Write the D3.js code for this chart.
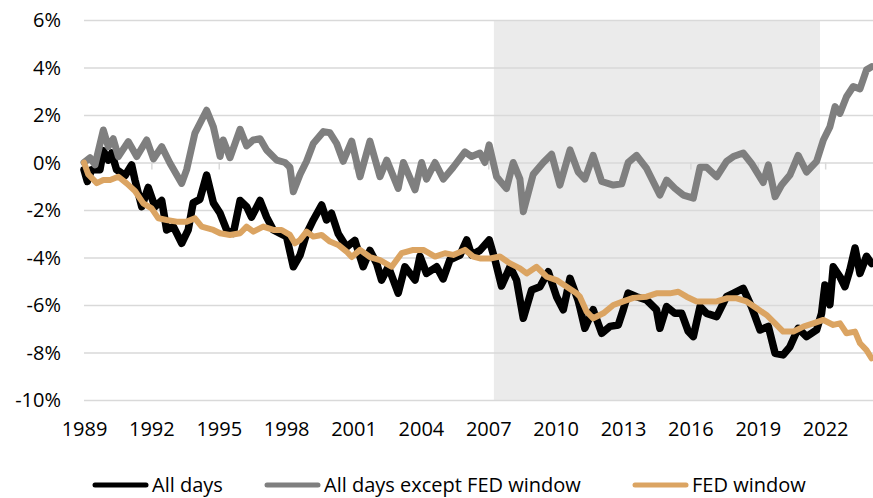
<!DOCTYPE html>
<html>
<head>
<meta charset="utf-8">
<script src="https://cdn.jsdelivr.net/npm/d3@7"></script>
<style>
  body { margin: 0; background: #fff; }
  svg { display: block; font-family: "Open Sans", sans-serif; }
</style>
</head>
<body>
<svg width="873" height="498"></svg>
<script>
// values: [year, cumulative %]
var allDays = [
  [1989.0,-0.3],[1989.15,-0.8],[1989.34,-0.3],[1989.71,-0.3],[1989.86,0.5],[1990.08,0.1],[1990.23,0.4],
  [1990.45,-0.3],[1990.83,-0.55],[1991.12,-0.1],[1991.27,-0.74],[1991.57,-1.86],[1991.86,-1.05],
  [1992.16,-1.86],[1992.46,-1.6],[1992.68,-2.84],[1992.98,-2.7],[1993.35,-3.4],[1993.64,-2.84],
  [1993.86,-1.7],[1994.16,-1.55],[1994.46,-0.53],[1994.76,-1.7],[1995.06,-2.14],[1995.35,-2.84],
  [1995.65,-2.98],[1995.95,-1.6],[1996.24,-1.86],[1996.46,-2.3],[1996.84,-1.6],[1997.13,-2.3],
  [1997.43,-2.84],[1997.73,-2.98],[1998.02,-3.12],[1998.32,-4.39],[1998.62,-3.9],[1998.91,-3.0],
  [1999.21,-2.42],[1999.58,-1.79],[1999.8,-2.42],[2000.02,-2.14],[2000.32,-3.0],[2000.69,-3.56],
  [2001.06,-3.28],[2001.43,-4.39],[2001.73,-3.7],[2002.03,-4.25],[2002.25,-4.95],[2002.55,-4.39],
  [2002.99,-5.5],[2003.29,-4.39],[2003.74,-4.95],[2003.96,-3.95],[2004.25,-4.67],[2004.7,-4.39],
  [2004.99,-4.9],[2005.29,-4.1],[2005.74,-3.9],[2006.04,-3.26],[2006.26,-3.9],[2006.63,-3.7],
  [2007.04,-3.26],[2007.3,-4.1],[2007.59,-5.2],[2007.97,-4.39],[2008.26,-4.95],[2008.56,-6.56],
  [2008.93,-5.37],[2009.3,-5.23],[2009.67,-4.6],[2010.04,-5.65],[2010.34,-6.2],[2010.64,-4.88],
  [2011.0,-5.8],[2011.08,-6.1],[2011.3,-6.98],[2011.67,-6.2],[2012.05,-7.19],[2012.42,-6.9],
  [2012.79,-6.84],[2013.01,-6.2],[2013.23,-5.5],[2013.6,-5.65],[2014.05,-5.79],[2014.49,-6.2],
  [2014.64,-6.98],[2014.94,-6.07],[2015.31,-6.35],[2015.61,-6.35],[2015.9,-7.1],[2016.13,-7.33],
  [2016.43,-6.07],[2016.72,-6.35],[2017.17,-6.49],[2017.61,-5.65],[2017.91,-5.51],[2018.35,-5.3],
  [2018.72,-6.07],[2019.1,-7.05],[2019.47,-6.9],[2019.77,-8.03],[2020.13,-8.1],[2020.43,-7.76],
  [2020.8,-6.98],[2021.17,-7.33],[2021.62,-7.05],[2021.84,-6.35],[2021.99,-5.16],[2022.21,-5.99],
  [2022.36,-4.39],[2022.66,-4.81],[2022.88,-5.23],[2023.1,-4.53],[2023.33,-3.6],[2023.55,-4.67],
  [2023.84,-3.95],[2024.07,-4.25]
];

var exceptFed = [
  [1989.0,0.0],[1989.27,0.2],[1989.49,-0.1],[1989.86,1.37],[1990.08,0.67],[1990.3,1.0],[1990.53,0.25],
  [1990.97,0.88],[1991.35,0.25],[1991.79,0.95],[1992.09,0.15],[1992.46,0.67],[1992.83,-0.03],
  [1993.35,-0.88],[1993.57,-0.3],[1993.94,1.24],[1994.46,2.2],[1994.76,1.5],[1995.06,0.25],
  [1995.2,0.95],[1995.5,0.2],[1995.95,1.4],[1996.24,0.7],[1996.54,0.95],[1996.84,1.0],[1997.13,0.53],
  [1997.58,0.1],[1997.95,0.0],[1998.17,-0.2],[1998.32,-1.23],[1998.62,-0.5],[1998.91,0.05],
  [1999.21,0.8],[1999.66,1.3],[1999.95,1.25],[2000.25,0.8],[2000.54,0.05],[2000.92,0.9],
  [2001.29,-0.6],[2001.73,0.9],[2002.18,-0.6],[2002.48,0.1],[2002.99,-1.09],[2003.22,0.0],
  [2003.74,-1.15],[2004.03,0.0],[2004.25,-0.7],[2004.63,0.0],[2005.0,-0.7],[2005.44,-0.2],
  [2005.96,0.45],[2006.26,0.25],[2006.63,0.4],[2006.85,0.0],[2007.04,0.74],[2007.37,-0.6],
  [2007.81,-1.1],[2008.11,0.0],[2008.41,-0.7],[2008.56,-2.07],[2009.0,-0.5],[2009.45,0.0],
  [2009.82,0.35],[2010.19,-0.95],[2010.64,0.53],[2011.0,-0.39],[2011.3,-0.7],[2011.67,0.3],
  [2012.05,-0.8],[2012.57,-0.95],[2012.94,-0.9],[2013.23,0.0],[2013.6,0.3],[2014.05,-0.25],
  [2014.64,-1.37],[2014.94,-0.74],[2015.31,-1.09],[2015.68,-1.37],[2016.13,-1.5],[2016.43,-0.2],
  [2016.72,-0.2],[2017.17,-0.6],[2017.61,0.05],[2017.91,0.25],[2018.35,0.4],[2018.72,-0.04],
  [2019.24,-0.84],[2019.47,-0.1],[2019.77,-1.44],[2020.06,-0.95],[2020.43,-0.53],[2020.8,0.3],
  [2021.17,-0.4],[2021.62,0.05],[2021.92,0.95],[2022.21,1.5],[2022.44,2.35],[2022.66,2.07],
  [2022.95,2.77],[2023.25,3.2],[2023.55,3.1],[2023.84,3.9],[2024.07,4.03]
];

var fedWindow = [
  [1989.0,0.0],[1989.19,-0.5],[1989.57,-0.87],[1989.86,-0.74],[1990.16,-0.74],[1990.53,-0.6],
  [1990.9,-0.88],[1991.27,-1.2],[1991.64,-1.72],[1992.01,-1.93],[1992.31,-2.35],[1992.68,-2.42],
  [1993.13,-2.49],[1993.57,-2.49],[1993.94,-2.35],[1994.24,-2.7],[1994.76,-2.84],[1995.06,-2.98],
  [1995.5,-3.05],[1995.95,-2.98],[1996.24,-2.7],[1996.54,-2.91],[1996.98,-2.7],[1997.43,-2.84],
  [1997.8,-2.84],[1998.17,-3.05],[1998.39,-3.4],[1998.62,-3.26],[1998.91,-2.91],[1999.21,-3.12],
  [1999.58,-3.05],[1999.95,-3.33],[2000.32,-3.47],[2000.69,-3.75],[2000.92,-3.98],[2001.29,-3.68],
  [2001.73,-3.98],[2002.18,-4.11],[2002.7,-4.39],[2003.14,-3.82],[2003.66,-3.68],[2004.11,-3.68],
  [2004.63,-3.96],[2005.07,-3.82],[2005.44,-3.89],[2005.96,-3.68],[2006.33,-3.96],[2006.63,-4.04],
  [2007.08,-4.04],[2007.52,-3.96],[2007.97,-4.25],[2008.41,-4.46],[2008.71,-4.67],[2009.15,-4.39],
  [2009.6,-4.81],[2010.04,-4.95],[2010.49,-5.23],[2010.93,-5.51],[2011.08,-5.65],[2011.38,-6.28],
  [2011.67,-6.56],[2012.12,-6.35],[2012.57,-6.0],[2013.01,-5.85],[2013.46,-5.7],[2014.05,-5.65],
  [2014.49,-5.51],[2015.09,-5.51],[2015.46,-5.44],[2015.83,-5.65],[2016.28,-5.85],[2016.72,-5.85],
  [2017.17,-5.85],[2017.61,-5.72],[2018.06,-5.72],[2018.5,-5.85],[2018.95,-6.14],[2019.39,-6.42],
  [2019.77,-6.77],[2020.13,-7.12],[2020.58,-7.12],[2021.03,-6.91],[2021.47,-6.77],[2021.92,-6.63],
  [2022.36,-6.84],[2022.66,-6.77],[2022.95,-7.19],[2023.33,-7.12],[2023.55,-7.61],[2023.84,-7.9],
  [2024.07,-8.25]
];

var yearTicks = [1989, 1992, 1995, 1998, 2001, 2004, 2007, 2010, 2013, 2016, 2019, 2022];
var pctTicks = [6, 4, 2, 0, -2, -4, -6, -8, -10];
var fedPeriod = [2007.25, 2021.77];

var seriesNames = ["All days", "All days except FED window", "FED window"];
var seriesColors = ["#000000", "#7f7f7f", "#dba462"];

var svg = d3.select("svg");

var x = d3.scaleLinear().domain([1989, 2024.13]).range([84, 873]);
var y = d3.scaleLinear().domain([-10, 6]).range([400, 20]);

// shaded FED period
svg.append("rect")
   .attr("x", x(fedPeriod[0]))
   .attr("y", y(6))
   .attr("width", x(fedPeriod[1]) - x(fedPeriod[0]))
   .attr("height", y(-10) - y(6))
   .attr("fill", "#ebebeb");

// gridlines + y labels
svg.append("g")
   .attr("transform", "translate(84,0)")
   .call(d3.axisLeft(y).tickValues(pctTicks).tickSize(-(873 - 84)).tickFormat(function(d) { return d + "%"; }))
   .call(function(g) {
      g.select(".domain").remove();
      g.selectAll(".tick line").attr("stroke", "#d9d9d9").attr("stroke-width", 1.5);
      g.selectAll(".tick text")
       .attr("x", -23)
       .attr("dy", "0.33em")
       .attr("font-size", "20px")
       .attr("font-family", "Open Sans, sans-serif")
       .attr("fill", "#000");
   });

// x axis sits on the 0% line, labels below the plot
svg.append("g")
   .attr("transform", "translate(0," + y(0) + ")")
   .call(d3.axisBottom(x).tickValues(yearTicks).tickSize(7).tickFormat(""))
   .call(function(g) {
      g.select(".domain").remove();
      g.selectAll(".tick line").attr("stroke", "#d9d9d9").attr("stroke-width", 1.5);
   });

svg.append("g")
   .attr("transform", "translate(0,400)")
   .call(d3.axisBottom(x).tickValues(yearTicks).tickSize(0).tickPadding(22).tickFormat(d3.format("d")))
   .call(function(g) {
      g.select(".domain").remove();
      g.selectAll(".tick text")
       .attr("font-size", "20px")
       .attr("font-family", "Open Sans, sans-serif")
       .attr("fill", "#000");
   });

var line = d3.line()
   .x(function(d) { return x(d[0]); })
   .y(function(d) { return y(d[1]); })
   .curve(d3.curveLinear);

var data = [allDays, exceptFed, fedWindow];
var widths = [7.5, 7, 6];

svg.append("g").selectAll("path")
   .data(data)
   .enter()
   .append("path")
   .attr("d", line)
   .attr("fill", "none")
   .attr("stroke", function(d, i) { return seriesColors[i]; })
   .attr("stroke-width", function(d, i) { return widths[i]; })
   .attr("stroke-linejoin", "round")
   .attr("stroke-linecap", "round");

// legend
var legendX = [93, 265, 633];
var legend = svg.append("g").selectAll("g")
   .data(seriesNames)
   .enter()
   .append("g")
   .attr("transform", function(d, i) { return "translate(" + legendX[i] + ",485)"; });

legend.append("line")
   .attr("x1", 2).attr("x2", 53)
   .attr("stroke", function(d, i) { return seriesColors[i]; })
   .attr("stroke-width", 5)
   .attr("stroke-linecap", "round");

legend.append("text")
   .attr("x", 59)
   .attr("y", 7)
   .attr("font-size", "20px")
   .attr("fill", "#000")
   .text(function(d) { return d; });
</script>
</body>
</html>
